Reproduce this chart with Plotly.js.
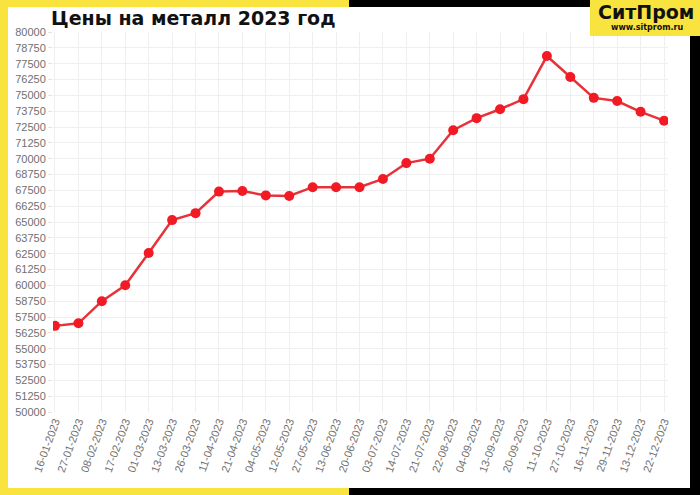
<!DOCTYPE html>
<html>
<head>
<meta charset="utf-8">
<script src="https://cdn.plot.ly/plotly-3.0.1.min.js"></script>
<style>html,body{margin:0;padding:0;background:#fff;}#chart{width:700px;height:495px;}</style>
</head>
<body>
<div id="chart"></div>
<script>
const dates = ["16-01-2023","27-01-2023","08-02-2023","17-02-2023","01-03-2023","13-03-2023","26-03-2023","11-04-2023","21-04-2023","04-05-2023","12-05-2023","27-05-2023","13-06-2023","20-06-2023","03-07-2023","14-07-2023","21-07-2023","22-08-2023","04-09-2023","13-09-2023","20-09-2023","11-10-2023","27-10-2023","16-11-2023","29-11-2023","13-12-2023","22-12-2023"];
const prices = [56800,57000,58750,60000,62550,65150,65700,67400,67450,67100,67050,67750,67750,67750,68400,69650,70000,72250,73200,73900,74700,78100,76450,74800,74550,73700,73000];
const yTicks = [50000,51250,52500,53750,55000,56250,57500,58750,60000,61250,62500,63750,65000,66250,67500,68750,70000,71250,72500,73750,75000,76250,77500,78750,80000];
const titleText = "Цены на металл 2023 год";
const logoText = "СитПром";
const logoUrl = "www.sitprom.ru";

const L = 53, T = 32, PW = 615, PH = 380;
function px(x){ return (x - L) / PW; }
function py(y){ return (T + PH - y) / PH; }
function rect(x0, y0, x1, y1, color){
  return {type:'rect', xref:'paper', yref:'paper', x0:px(x0), x1:px(x1), y0:py(y1), y1:py(y0),
          fillcolor:color, line:{width:0}, layer:'above'};
}
const YEL = '#f9e33e', BLK = '#000000';

const trace = {
  x: dates, y: prices, type:'scatter', mode:'lines+markers',
  line:{color:'#e8323a', width:2.5},
  marker:{color:'#f21a24', size:10},
  hoverinfo:'x+y'
};

const layout = {
  width:700, height:495,
  margin:{l:L, r:700-L-PW, t:T, b:495-T-PH, pad:0},
  paper_bgcolor:'#ffffff', plot_bgcolor:'#ffffff',
  showlegend:false,
  font:{family:'Liberation Sans, Arial, sans-serif', color:'#666', size:11},
  xaxis:{type:'category', range:[-0.085, 26.17], tickangle:-70, showgrid:true, gridcolor:'#efefef',
         zeroline:false, showline:false, ticks:'', tickfont:{size:11, color:'#707070'}},
  yaxis:{range:[50000,80000], tickvals:yTicks, ticktext:yTicks.map(String), showgrid:true, gridcolor:'#efefef',
         zeroline:false, showline:false, ticks:'outside', ticklen:4, tickcolor:'#e3e3e3',
         tickfont:{size:11, color:'#707070'}},
  shapes:[
    rect(0,0,349,7,YEL),
    rect(349,0,590,7,BLK),
    rect(590,0,700,36,YEL),
    rect(0,0,8,495,YEL),
    rect(690,36,700,495,BLK),
    rect(0,488,349,495,YEL),
    rect(349,488,700,495,BLK)
  ],
  annotations:[
    {text:titleText, xref:'paper', yref:'paper', x:px(49), y:py(18), xanchor:'left', yanchor:'middle',
     showarrow:false, font:{family:'DejaVu Sans, sans-serif', size:19, color:'#111', weight:'bold'}},
    {text:'<b>'+logoText+'</b>', xref:'paper', yref:'paper', x:px(646), y:py(12), xanchor:'center', yanchor:'middle',
     showarrow:false, font:{family:'DejaVu Sans, sans-serif', size:19, color:'#111'}},
    {text:'<b>'+logoUrl+'</b>', xref:'paper', yref:'paper', x:px(647), y:py(28), xanchor:'center', yanchor:'middle',
     showarrow:false, font:{family:'DejaVu Sans, sans-serif', size:8, color:'#111'}}
  ]
};
Plotly.newPlot('chart', [trace], layout, {displayModeBar:false, staticPlot:true});
</script>
</body>
</html>
